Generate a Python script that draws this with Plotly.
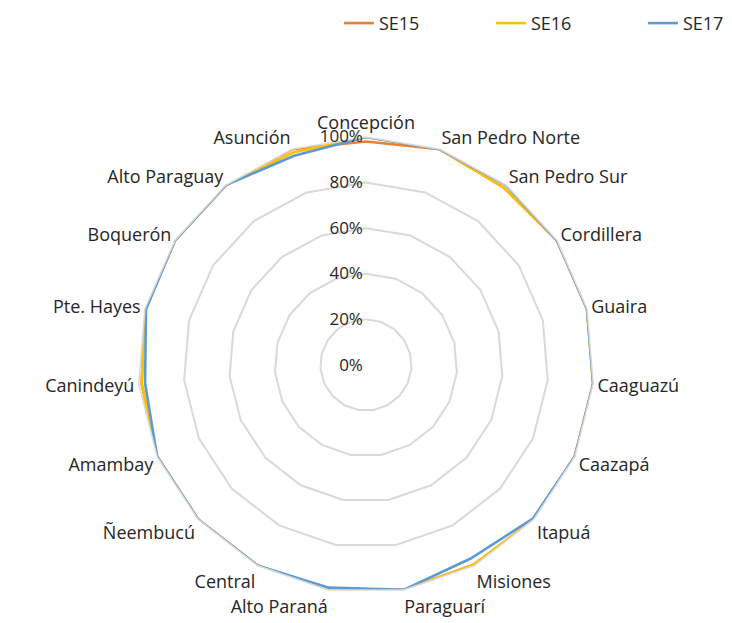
import plotly.graph_objects as go

# departments around the radar, clockwise from the top
departamentos = ['Concepción', 'San Pedro Norte', 'San Pedro Sur', 'Cordillera', 'Guaira',
                 'Caaguazú', 'Caazapá', 'Itapuá', 'Misiones', 'Paraguarí', 'Alto Paraná',
                 'Central', 'Ñeembucú', 'Amambay', 'Canindeyú', 'Pte. Hayes', 'Boquerón',
                 'Alto Paraguay', 'Asunción']

# values (percent)
se15 = [98.0, 100, 98.5, 100, 100, 100, 100, 100, 99.5, 100, 100, 100, 100, 100, 98.7, 100, 100, 100, 100]
se16 = [100, 100, 98.5, 100, 100, 100, 100, 100, 99.5, 100, 100, 100, 100, 100, 98.7, 100, 100, 100, 98.5]
se17 = [100, 100, 100, 100, 100, 100, 100, 99.5, 96.5, 100, 99.0, 100, 100, 100, 97.2, 99.5, 100, 100, 97.0]

series = [('SE15', se15, '#ED7D31'), ('SE16', se16, '#FFC000'), ('SE17', se17, '#5B9BD5')]

fig = go.Figure()
for name, vals, col in series:
    # close the polygon
    fig.add_trace(go.Scatterpolar(r=vals + vals[:1], theta=departamentos + departamentos[:1],
                                  mode='lines', name=name,
                                  line=dict(color=col, width=2.6)))

fig.update_layout(
    width=732, height=623,
    margin=dict(l=0, r=0, t=0, b=0, autoexpand=False),
    paper_bgcolor='white', plot_bgcolor='white',
    font=dict(family='Open Sans', size=18, color='#262626'),
    polar=dict(
        domain=dict(x=[0.1775, 0.8005], y=[0.061, 0.793]),
        bgcolor='white',
        gridshape='linear',
        radialaxis=dict(range=[0, 100], tickvals=[0, 20, 40, 60, 80, 100],
                        ticktext=['0%', '20%', '40%', '60%', '80%', '100%'],
                        angle=90, side='counterclockwise', tickangle=90,
                        showline=False, ticks='', gridcolor='#D9D9D9', gridwidth=1.5,
                        tickfont=dict(size=17, color='#262626')),
        angularaxis=dict(direction='clockwise', rotation=90, showgrid=False,
                         showline=True, linecolor='#D9D9D9', linewidth=1.5, ticks='',
                         tickfont=dict(size=18, color='#262626')),
    ),
    legend=dict(orientation='h', x=1.075, y=1.005, xanchor='right', yanchor='top',
                entrywidth=107, entrywidthmode='pixels',
                font=dict(size=18, color='#262626')),
)

fig.write_html("out.html")
